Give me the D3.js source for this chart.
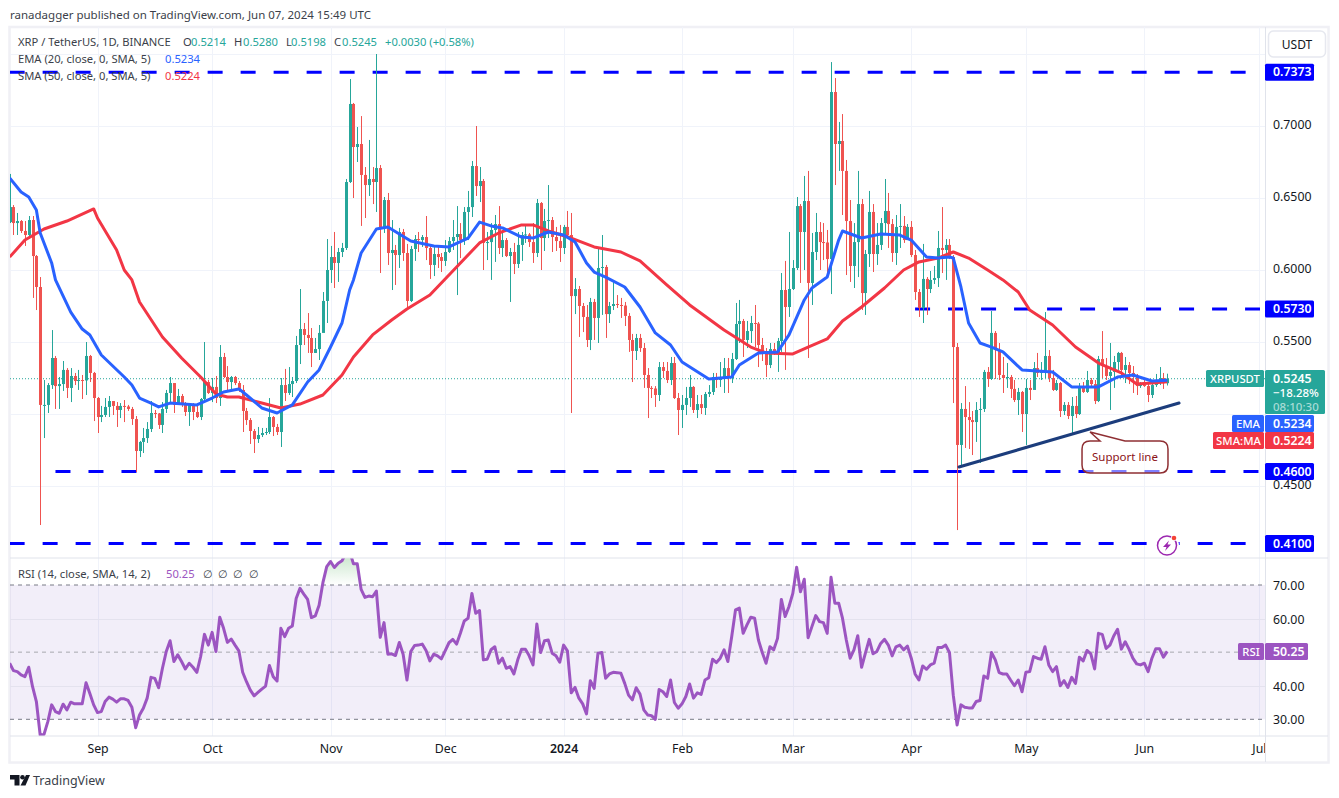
<!DOCTYPE html>
<html>
<head>
<meta charset="utf-8">
<script src="https://cdn.jsdelivr.net/npm/d3@7"></script>
<style>
  html, body { margin: 0; background: #fff; }
  svg { display: block; }
  text { font-family: "Noto Sans", sans-serif; font-size: 12px; fill: #131722; }
  .axis .domain, .axis .tick line { display: none; }
  .grid .domain { display: none; }
  .grid .tick line { stroke: #f0f3fa; stroke-width: 1; shape-rendering: crispEdges; }
  .axis text { font-size: 12.3px; fill: #131722; }
</style>
</head>
<body>
<svg id="chart" width="1339" height="798"></svg>
<script>
// daily candles, first one is 9 Aug 2023, open of each day is the close before
const firstDay = Date.UTC(2023, 7, 9);
const firstOpen = 0.6333;
const closes = [
  .6437,.6326,.6340,.6271,.6243,.6347,.6097,.5882,.5063,.5063,.5201,.5389,.5194,.5208,.5306,.5181,.5264,.5229,.5236,.5233,
  .5403,.5285,.5111,.4979,.4993,.5049,.5090,.5056,.5028,.5056,.5052,.5035,.4965,.4743,.4806,.4833,.4896,.5007,.5004,.4924,
  .5035,.5146,.5215,.5063,.5125,.5069,.5014,.5069,.5014,.4979,.5104,.5222,.5146,.5188,.5111,.5396,.5257,.5222,.5257,.5215,
  .5167,.5021,.4958,.4882,.4826,.4854,.4868,.4875,.4979,.4910,.4875,.5201,.5146,.5208,.5229,.5479,.5590,.5549,.5528,.5424,
  .5451,.5563,.5785,.6000,.6090,.6049,.6125,.6153,.6611,.7153,.6854,.6875,.6660,.6590,.6632,.6611,.6708,.6292,.6486,.6118,
  .6139,.6104,.6264,.6118,.5785,.6146,.6215,.6208,.6229,.6153,.6035,.6111,.6090,.6063,.6125,.6201,.6229,.6250,.6208,.6403,
  .6437,.6722,.6583,.6618,.6188,.6194,.6278,.6319,.6153,.6208,.6097,.6125,.6042,.6174,.6243,.6247,.6194,.6118,.6465,.6222,
  .6340,.6347,.6229,.6201,.6153,.6299,.6243,.5819,.5868,.5750,.5674,.5514,.5778,.5667,.6014,.6021,.5694,.5750,.5764,.5757,
  .5753,.5681,.5514,.5438,.5528,.5458,.5271,.5181,.5177,.5132,.5326,.5299,.5236,.5354,.5111,.5028,.5063,.5111,.5188,.5028,
  .5069,.5042,.5139,.5153,.5257,.5236,.5250,.5319,.5250,.5382,.5625,.5646,.5514,.5576,.5632,.5628,.5479,.5431,.5340,.5451,
  .5424,.5507,.5861,.5743,.5868,.6014,.6444,.6264,.6479,.5910,.6125,.6264,.6194,.6191,.6076,.7236,.6875,.6896,.6688,.6340,
  .6028,.6194,.6458,.5840,.6111,.6403,.6111,.6174,.6326,.6410,.6319,.6118,.6299,.6306,.6208,.6299,.6104,.5847,.5736,.5938,
  .5868,.5931,.5944,.6153,.6139,.6174,.6090,.5465,.4785,.5035,.4979,.4958,.4944,.5028,.5035,.5292,.5243,.5563,.5444,.5271,
  .5250,.5257,.5174,.5097,.5153,.5000,.5181,.5167,.5319,.5285,.5292,.5403,.5250,.5167,.5215,.5021,.5063,.4986,.5056,.5000,
  .5194,.5153,.5236,.5208,.5090,.5382,.5333,.5264,.5292,.5361,.5424,.5306,.5340,.5285,.5257,.5194,.5201,.5194,.5132,.5201,
  .5236,.5250,.5214,.5245
];
const highs = [
  .6667,.6451,.6396,.6347,.6340,.6375,.6375,.6104,.5951,.5236,.5215,.5583,.5403,.5257,.5368,.5319,.5319,.5285,.5306,.5271,
  .5500,.5410,.5292,.5118,.5056,.5111,.5125,.5090,.5083,.5076,.5097,.5063,.5049,.4986,.4813,.4903,.4944,.5090,.5028,.5007,
  .5083,.5167,.5257,.5215,.5174,.5139,.5083,.5076,.5076,.5076,.5111,.5500,.5236,.5250,.5264,.5479,.5424,.5333,.5264,.5264,
  .5229,.5201,.5042,.4972,.4896,.4910,.4903,.4903,.5111,.4986,.4931,.5250,.5313,.5326,.5257,.5542,.5868,.5632,.5701,.5597,
  .5528,.5618,.5847,.6215,.6167,.6264,.6153,.6188,.6632,.7326,.7160,.6993,.7069,.6715,.6903,.6715,.7500,.6729,.6507,.6535,
  .6347,.6174,.6292,.6285,.6181,.6167,.6243,.6264,.6243,.6375,.6174,.6174,.6167,.6118,.6208,.6229,.6347,.6444,.6326,.6437,
  .6549,.6757,.7000,.6715,.6632,.6264,.6326,.6382,.6444,.6278,.6222,.6153,.6188,.6264,.6264,.6319,.6257,.6326,.6493,.6472,
  .6424,.6590,.6368,.6299,.6313,.6313,.6410,.6396,.5944,.5889,.5771,.5757,.5806,.5799,.6153,.6243,.6035,.5778,.5917,.5826,
  .5806,.5778,.5701,.5556,.5556,.5556,.5493,.5319,.5194,.5194,.5361,.5361,.5361,.5396,.5396,.5146,.5132,.5188,.5271,.5194,
  .5132,.5132,.5153,.5201,.5285,.5285,.5361,.5389,.5389,.5424,.5771,.5792,.5660,.5646,.5681,.5757,.5639,.5528,.5458,.5493,
  .5493,.5528,.5979,.6063,.6264,.6069,.6507,.6458,.6653,.6688,.6257,.6396,.6333,.6326,.6278,.7444,.7333,.7028,.7083,.6764,
  .6486,.6326,.6688,.6493,.6139,.6549,.6458,.6326,.6361,.6632,.6535,.6354,.6382,.6458,.6375,.6319,.6340,.6139,.5868,.6181,
  .5951,.5993,.6028,.6271,.6437,.6215,.6215,.6104,.5493,.5076,.5194,.5083,.5021,.5083,.5111,.5306,.5326,.5715,.5576,.5493,
  .5396,.5354,.5271,.5236,.5181,.5160,.5243,.5236,.5361,.5424,.5361,.5708,.5444,.5306,.5236,.5222,.5083,.5083,.5118,.5125,
  .5215,.5222,.5299,.5250,.5236,.5403,.5576,.5389,.5493,.5403,.5431,.5431,.5396,.5361,.5333,.5278,.5222,.5236,.5208,.5215,
  .5278,.5326,.5285,.5280
];
const lows = [
  .6326,.6243,.6243,.6257,.6167,.6222,.5806,.5722,.4229,.4833,.5007,.5174,.5035,.5035,.5160,.5111,.5083,.5201,.5167,.5104,
  .5132,.5222,.4951,.4868,.4944,.4979,.4979,.4993,.4910,.4972,.4944,.5021,.4924,.4597,.4701,.4729,.4799,.4875,.4972,.4896,
  .4868,.5007,.5083,.5007,.5063,.5049,.4986,.4917,.4958,.4972,.4958,.5083,.5139,.5083,.5076,.5056,.5250,.5160,.5160,.5201,
  .5153,.4875,.4924,.4792,.4729,.4799,.4840,.4854,.4861,.4847,.4854,.4771,.5090,.5132,.5118,.5215,.5347,.5479,.5424,.5326,
  .5424,.5375,.5632,.5632,.5910,.5875,.5917,.6090,.6139,.6604,.6500,.6750,.6306,.6361,.6514,.6458,.6403,.5979,.6257,.6035,
  .5861,.5896,.6014,.6063,.5736,.5778,.6063,.6125,.6160,.6069,.5938,.5958,.6014,.5986,.6028,.6118,.6139,.5826,.6083,.6174,
  .6208,.6368,.6514,.6472,.6000,.6069,.5931,.6056,.6111,.6090,.6090,.5778,.5972,.6014,.6063,.6188,.6160,.6049,.6090,.6000,
  .6132,.6222,.6125,.6132,.6056,.6111,.6229,.5007,.5694,.5535,.5569,.5465,.5444,.5514,.5493,.5688,.5528,.5632,.5722,.5736,
  .5667,.5611,.5431,.5222,.5375,.5431,.5181,.4972,.5111,.5049,.5090,.5250,.5215,.5201,.5104,.4854,.4903,.4993,.5049,.5007,
  .4972,.5000,.4993,.5118,.5132,.5181,.5188,.5146,.5146,.5215,.5375,.5493,.5396,.5458,.5493,.5465,.5326,.5368,.5257,.5319,
  .5410,.5292,.5431,.5306,.5674,.5861,.6000,.5910,.6000,.5389,.5757,.6069,.6000,.6069,.5951,.5833,.6590,.6688,.6382,.5965,
  .5917,.5875,.5951,.5722,.5688,.6021,.5986,.6035,.6139,.6257,.6153,.6056,.6035,.6153,.6188,.6208,.6090,.5792,.5674,.5632,
  .5688,.5840,.5903,.5882,.5979,.5931,.6076,.5076,.4194,.4646,.4764,.4757,.4715,.4806,.4660,.5014,.5188,.5236,.5243,.5236,
  .5146,.5181,.5111,.5083,.4993,.4875,.4785,.5097,.5174,.5257,.5236,.5250,.5222,.5160,.5160,.4979,.4993,.4965,.4868,.4972,
  .4993,.5146,.5146,.5181,.5069,.5083,.5250,.5236,.5028,.5181,.5306,.5257,.5215,.5208,.5146,.5132,.5181,.5188,.5083,.5111,
  .5188,.5201,.5174,.5198
];
const rsiValues = [
  46.7,44.5,44.2,43.2,42.7,45.5,39.7,35.3,25.3,25.5,29.3,34.3,32.3,31.8,34.5,32.8,35.1,34.6,34.6,34.6,
  40.9,37.7,34.3,32,32.3,35.3,36.6,36,35.1,36.1,36.1,35.6,33.6,27.5,31.3,33.3,36.3,42.5,42.2,39.4,
  45.2,50.2,53.4,47.2,49.2,47.2,45,46.7,45.5,44,48.7,55.3,52.1,55.9,50.2,60.4,57.1,52.9,53.9,52.1,
  50.4,44,41.2,38.7,37,38,39,39.9,46,42.7,41.4,57.1,54.6,57.1,57.8,66,69,67.3,65.7,60.3,
  60.8,64,70.7,75.5,77,75.2,76.5,77.2,79.5,80,76.3,76.3,68.7,66.3,66.7,66.5,68.2,54.4,58.8,49.4,
  49.5,49,52.9,49.4,41.7,50.2,52,52.1,52.4,50.5,47.4,49.4,48.9,48,50.4,52.8,53.8,52.4,55.7,59.3,
  60.1,67.5,61.6,62.4,47.7,47.9,50.7,51.6,46.7,48.2,45.2,45.7,43.5,47.7,50.9,50.9,48.9,46.2,58.4,49.9,
  53.4,53.6,49.7,48.9,47,52.1,50.4,37.9,39.5,36.3,34.6,31.6,41.5,39.2,49.7,49.9,42.2,43.5,44,43.9,
  43.7,40.7,37.2,35.8,39.4,37.5,32.8,31.3,31.1,30,38.9,38.2,36.8,41.7,35,33.3,34.6,36.8,40.5,36.3,
  37.9,37.4,41.7,42.4,47.9,46.9,48.2,50.7,47.2,54.6,62.6,63.1,55.6,58.1,60.4,60.1,53.6,49.9,46.7,51.6,
  50.7,54.1,65.7,60.6,63.6,67.5,75.3,68,71.7,54.3,57.6,60.9,59.1,58.8,55.6,72.3,64.6,64.6,60.1,53.6,
  48.2,50.7,54.9,45.5,49.7,53.8,49.5,50.2,52.6,53.8,52.1,48.9,51.6,52.1,50.7,51.8,48.2,43.5,41.7,45.9,
  44.9,46.2,46.7,51.4,51.4,52.1,49.9,37.2,28.3,34.3,33.6,33.4,33.4,35.3,35.6,42.9,42.2,49.9,47.7,43.9,
  43.5,43.5,41.7,40,41.7,38.2,44,44.2,48.7,48.2,47.9,51.6,46.2,44.2,45.7,40,41.5,39.5,42.5,40.7,
  48.5,47.4,50.5,49.5,45,55.6,55.3,51.1,52.1,54.8,56.8,50.9,53.1,50.9,48.2,46.5,46.2,46.7,44.2,48.2,
  51,51,48.5,50.25
];
// moving averages read every few days (day number counted from firstDay)
const emaDays = [0,3,5,7,8,11,12,16,19,21,24,30,32,34,37,39,42,49,53,56,60,62,66,70,74,78,81,84,87,89,90,92,96,99,105,111,115,120,123,126,129,134,137,141,145,148,151,153,156,161,165,169,173,176,183,189,191,196,201,204,208,210,214,217,218,223,228,233,236,240,243,246,247,249,251,254,257,260,265,273,278,285,290,294,299,303];
const emaValues = [.6639,.6542,.6507,.6417,.6257,.6049,.5931,.5708,.5590,.5549,.5410,.5257,.5201,.5111,.5076,.5049,.5076,.5063,.5111,.5153,.5174,.5132,.5042,.5007,.5063,.5222,.5306,.5465,.5632,.5861,.5931,.6118,.6285,.6299,.6201,.6167,.6160,.6222,.6333,.6306,.6292,.6229,.6222,.6264,.6243,.6194,.6049,.5986,.5951,.5882,.5743,.5563,.5479,.5361,.5243,.5257,.5340,.5424,.5431,.5549,.5792,.5875,.5951,.6208,.6271,.6222,.6250,.6243,.6208,.6090,.6083,.6090,.6083,.5882,.5632,.5493,.5465,.5431,.5306,.5292,.5188,.5188,.5257,.5271,.5229,.5234];
const smaDays = [0,4,9,15,22,23,28,30,32,34,40,45,50,54,57,60,65,71,76,82,87,90,95,100,104,110,117,123,128,134,137,141,147,153,160,165,172,178,187,194,198,205,209,214,218,223,229,234,238,243,247,251,256,260,264,267,273,279,285,291,295,299,303];
const smaValues = [.6090,.6208,.6285,.6340,.6424,.6361,.6139,.6000,.5931,.5778,.5535,.5389,.5257,.5139,.5118,.5118,.5083,.5042,.5069,.5132,.5271,.5396,.5549,.5653,.5729,.5826,.6021,.6188,.6257,.6313,.6313,.6271,.6222,.6160,.6125,.6063,.5896,.5757,.5583,.5465,.5424,.5417,.5465,.5521,.5646,.5743,.5875,.6000,.6056,.6083,.6125,.6083,.6000,.5931,.5847,.5722,.5618,.5465,.5354,.5285,.5208,.5215,.5224];

const priceGrid = [.75,.7,.65,.6,.55,.5,.45];
const priceLabels = [.7,.65,.6,.55,.45];
const rsiTicks = [70,60,40,30];
const levelPrices = [0.7373,0.5730,0.4600,0.4100];
const levelStartDays = [0,237,12,0];
const supportDays = [248.5,306.1];
const supportPrices = [.4632,.5076];
const monthStarts = d3.utcMonth.range(new Date(Date.UTC(2023,8,1)), new Date(Date.UTC(2024,6,2)));

const svg = d3.select('#chart');
const paneLeft = 10, paneRight = 1265, mainTop = 27, mainBottom = 558, rsiBottom = 736;

const x = d3.scaleUtc()
  .domain([new Date(Date.UTC(2023,8,1)), new Date(Date.UTC(2024,5,1))])
  .range([97.5, 1144.3]);
const dayX = d => x(new Date(firstDay + d * 864e5));
const y = d3.scaleLinear().domain([0.6, 0.45]).range([270, 486]);
const yRsi = d3.scaleLinear().domain([70, 30]).range([585, 719.3]);

const defs = svg.append('defs');
defs.append('clipPath').attr('id', 'mainClip').append('rect')
  .attr('x', paneLeft).attr('y', mainTop).attr('width', paneRight - paneLeft).attr('height', mainBottom - mainTop);
defs.append('clipPath').attr('id', 'rsiClip').append('rect')
  .attr('x', paneLeft).attr('y', mainBottom).attr('width', paneRight - paneLeft).attr('height', rsiBottom - mainBottom);
defs.append('clipPath').attr('id', 'timeClip').append('rect')
  .attr('x', paneLeft).attr('y', rsiBottom).attr('width', paneRight - paneLeft).attr('height', 26);
defs.append('clipPath').attr('id', 'overClip').append('rect')
  .attr('x', paneLeft).attr('y', mainBottom).attr('width', paneRight - paneLeft).attr('height', yRsi(70) - mainBottom);
const grad = defs.append('linearGradient').attr('id', 'overGrad').attr('x1', 0).attr('x2', 0).attr('y1', 0).attr('y2', 1);
grad.append('stop').attr('offset', 0).attr('stop-color', '#c3e3c6');
grad.append('stop').attr('offset', 1).attr('stop-color', '#ffffff');

// frame of the screenshot
svg.append('rect').attr('x', 9.5).attr('y', 27).attr('width', 1319).attr('height', 735.5)
  .attr('fill', '#fff').attr('stroke', '#f0f0f5').attr('stroke-width', 2.5);

// grids
svg.append('g').attr('class', 'grid').attr('transform', `translate(0,${rsiBottom})`)
  .call(d3.axisBottom(x).tickValues(monthStarts).tickSize(-(rsiBottom - mainTop)).tickFormat(''));
svg.append('g').attr('class', 'grid').attr('transform', `translate(${paneRight},0)`)
  .call(d3.axisLeft(y).tickValues(priceGrid).tickSize(paneRight - paneLeft).tickFormat(''));

// rsi band goes under its grid lines
svg.append('rect').attr('x', paneLeft).attr('y', yRsi(70)).attr('width', paneRight - paneLeft)
  .attr('height', yRsi(30) - yRsi(70)).attr('fill', '#7e57c2').attr('fill-opacity', 0.1);
svg.append('g').attr('class', 'grid rsigrid').attr('transform', `translate(${paneRight},0)`)
  .call(d3.axisLeft(yRsi).tickValues([60, 40]).tickSize(paneRight - paneLeft).tickFormat(''))
  .selectAll('.tick line').style('stroke', '#e4e2ee');

// horizontal levels
const main = svg.append('g').attr('clip-path', 'url(#mainClip)');
main.selectAll('.level').data(levelPrices).enter().append('line')
  .attr('class', 'level')
  .attr('x1', (d, i) => dayX(levelStartDays[i]))
  .attr('x2', paneRight - 5)
  .attr('y1', d => y(d)).attr('y2', d => y(d))
  .attr('stroke', '#0000ff').attr('stroke-width', 3).attr('stroke-dasharray', '15 18');

// last price dotted line
main.append('line').attr('x1', paneLeft).attr('x2', paneRight)
  .attr('y1', y(closes[closes.length - 1])).attr('y2', y(closes[closes.length - 1]))
  .attr('stroke', '#26a69a').attr('stroke-width', 1).attr('stroke-dasharray', '1 2');

// candles
const candles = closes.map((c, i) => ({
  day: i, open: i ? closes[i - 1] : firstOpen, close: c, high: highs[i], low: lows[i]
}));
const colour = d => (d.close >= d.open ? '#26a69a' : '#ef5350');
main.selectAll('.wick').data(candles).enter().append('line')
  .attr('class', 'wick')
  .attr('x1', d => Math.round(dayX(d.day)) + 0.5).attr('x2', d => Math.round(dayX(d.day)) + 0.5)
  .attr('y1', d => y(d.high)).attr('y2', d => y(d.low))
  .attr('stroke', colour).attr('stroke-width', 1);
main.selectAll('.body').data(candles).enter().append('rect')
  .attr('class', 'body')
  .attr('x', d => Math.round(dayX(d.day)) - 1)
  .attr('width', 3)
  .attr('y', d => y(Math.max(d.open, d.close)))
  .attr('height', d => Math.max(1, Math.abs(y(d.open) - y(d.close))))
  .attr('fill', colour);

// moving averages
const maLine = d3.line().x(d => dayX(d[0])).y(d => y(d[1]));
main.append('path').attr('d', maLine(smaDays.map((d, i) => [d, smaValues[i]])))
  .attr('fill', 'none').attr('stroke', '#f23645').attr('stroke-width', 3).attr('stroke-linejoin', 'round');
main.append('path').attr('d', maLine(emaDays.map((d, i) => [d, emaValues[i]])))
  .attr('fill', 'none').attr('stroke', '#2962ff').attr('stroke-width', 3).attr('stroke-linejoin', 'round');

// support line with its note
main.append('line')
  .attr('x1', dayX(supportDays[0])).attr('y1', y(supportPrices[0]))
  .attr('x2', dayX(supportDays[1])).attr('y2', y(supportPrices[1]))
  .attr('stroke', '#1c3d7c').attr('stroke-width', 3).attr('stroke-linecap', 'round');

const noteL = dayX(280.7), noteR = dayX(303.2), noteT = y(.4813), noteB = y(.4590);
const tipX = dayX(282.8), tipY = y(.4875), r = 8;
const notePath = d3.path();
notePath.moveTo(noteL + r, noteT);
notePath.lineTo(noteL + 18, noteT);
notePath.lineTo(tipX, tipY);
notePath.lineTo(noteL + 43, noteT);
notePath.lineTo(noteR - r, noteT);
notePath.quadraticCurveTo(noteR, noteT, noteR, noteT + r);
notePath.lineTo(noteR, noteB - r);
notePath.quadraticCurveTo(noteR, noteB, noteR - r, noteB);
notePath.lineTo(noteL + r, noteB);
notePath.quadraticCurveTo(noteL, noteB, noteL, noteB - r);
notePath.lineTo(noteL, noteT + r);
notePath.quadraticCurveTo(noteL, noteT, noteL + r, noteT);
notePath.closePath();
main.append('path').attr('d', notePath.toString())
  .attr('fill', '#fff').attr('fill-opacity', 0.5).attr('stroke', '#8f2f33').attr('stroke-width', 1.5);
main.append('text').attr('x', (noteL + noteR) / 2).attr('y', (noteT + noteB) / 2 + 4)
  .attr('text-anchor', 'middle').style('fill', '#8b1218').style('font-size', '11.5px').text('Support line');

// bolt badge
const badge = svg.append('g').attr('transform', `translate(1167,545.5)`);
badge.append('circle').attr('r', 12).attr('fill', '#fff');
badge.append('circle').attr('r', 9.5).attr('fill', 'none').attr('stroke', '#9c27b0').attr('stroke-width', 1.5);
badge.append('path').attr('d', 'M2,-5 L-4,1.5 L-0.5,1.5 L-2,5.5 L4,-1 L0.5,-1 Z').attr('fill', '#9c27b0');
badge.append('circle').attr('cx', 7).attr('cy', -7.5).attr('r', 3).attr('fill', '#fff');
badge.append('circle').attr('cx', 7).attr('cy', -7.5).attr('r', 2.3).attr('fill', '#f44336');

// rsi pane
const rsi = svg.append('g').attr('clip-path', 'url(#rsiClip)');
const rsiPts = rsiValues.map((v, i) => [i, v]);
rsi.append('path').attr('clip-path', 'url(#overClip)')
  .attr('d', d3.area().x(d => dayX(d[0])).y0(yRsi(70)).y1(d => yRsi(Math.max(d[1], 70)))(rsiPts))
  .attr('fill', 'url(#overGrad)');
[70, 50, 30].forEach(v => {
  rsi.append('line').attr('x1', paneLeft).attr('x2', paneRight).attr('y1', yRsi(v)).attr('y2', yRsi(v))
    .attr('stroke', v === 50 ? '#a9a9ae' : '#787b86').attr('stroke-dasharray', '4 4').attr('stroke-width', 1);
});
rsi.append('path').attr('d', d3.line().x(d => dayX(d[0])).y(d => yRsi(d[1]))(rsiPts))
  .attr('fill', 'none').attr('stroke', '#9c55c1').attr('stroke-width', 3).attr('stroke-linejoin', 'round');

// pane dividers
[mainBottom, rsiBottom].forEach(v => {
  svg.append('line').attr('x1', paneLeft).attr('x2', 1328).attr('y1', v).attr('y2', v)
    .attr('stroke', '#e0e3eb').attr('stroke-width', 1);
});
svg.append('line').attr('x1', paneRight + 0.5).attr('x2', paneRight + 0.5).attr('y1', mainTop).attr('y2', 762)
  .attr('stroke', '#e0e3eb').attr('stroke-width', 1);

// time axis, Jul is cut by the price scale as in the picture
const timeAxis = svg.append('g').attr('clip-path', 'url(#timeClip)').append('g')
  .attr('class', 'axis').attr('transform', `translate(0,${rsiBottom})`)
  .call(d3.axisBottom(x).tickValues(monthStarts).tickSize(0).tickPadding(8)
    .tickFormat(d => (d.getUTCMonth() === 0 ? d.getUTCFullYear() : d3.utcFormat('%b')(d))));
timeAxis.selectAll('.tick text').filter(d => d.getUTCMonth() === 0).style('font-weight', 600);

// price axes
svg.append('g').attr('class', 'axis').attr('transform', `translate(${paneRight},-1)`)
  .call(d3.axisRight(y).tickValues(priceLabels).tickSize(0).tickPadding(8).tickFormat(d3.format('.4f')));
svg.append('g').attr('class', 'axis').attr('transform', `translate(${paneRight},0.5)`)
  .call(d3.axisRight(yRsi).tickValues(rsiTicks).tickSize(0).tickPadding(8).tickFormat(d3.format('.2f')));

// right side tags
function tag(value, bg, label, width, top, height) {
  const g = svg.append('g');
  g.append('rect').attr('x', paneRight).attr('y', top).attr('width', width).attr('height', height)
    .attr('rx', 1.5).attr('fill', bg);
  g.append('text').attr('x', paneRight + 8).attr('y', top + 12.5).text(value)
    .style('fill', '#fff').style('font-size', '12.3px').style('font-weight', 600);
  if (label) {
    const lw = label.w;
    g.append('rect').attr('x', paneRight - lw - 1).attr('y', top).attr('width', lw).attr('height', 17)
      .attr('rx', 1.5).attr('fill', bg);
    g.append('text').attr('x', paneRight - 1 - lw / 2).attr('y', top + 12.5).attr('text-anchor', 'middle').text(label.t)
      .style('fill', '#fff').style('font-size', '11.3px').style('font-weight', 500);
  }
}
const tagTop = v => y(v) - 8.5;
levelPrices.forEach(p => tag(d3.format('.4f')(p), '#0000ff', null, 49, tagTop(p), 17));
tag('0.5245', '#26a69a', { t: 'XRPUSDT', w: 58 }, 60, 370, 44);
svg.append('text').attr('x', paneRight + 8).attr('y', 396.5).text('\u221218.28%')
  .style('fill', '#fff').style('font-size', '11.5px').style('font-weight', 500);
svg.append('text').attr('x', paneRight + 8).attr('y', 411).text('08:10:30')
  .style('fill', '#a8dcd6').style('font-size', '11.5px').style('font-weight', 500);
tag('0.5234', '#2962ff', { t: 'EMA', w: 32 }, 49, 415, 17);
tag('0.5224', '#f23645', { t: 'SMA:MA', w: 51 }, 49, 432, 17);
tag('50.25', '#9c55c1', { t: 'RSI', w: 26 }, 43, 643, 17);

// currency button
svg.append('rect').attr('x', 1268.5).attr('y', 31).attr('width', 57).attr('height', 26).attr('rx', 5)
  .attr('fill', '#fff').attr('stroke', '#e6e8ef').attr('stroke-width', 1.5);
svg.append('text').attr('x', 1297).attr('y', 48.5).attr('text-anchor', 'middle').text('USDT').style('font-size', '12px');

// legends
function legend(yPos, parts) {
  parts.forEach(p => {
    svg.append('text').attr('x', p[0]).attr('y', yPos).text(p[1])
      .style('fill', p[2] || '#3b3f4a').style('font-size', '11.2px');
  });
}
const teal = '#26a69a';
legend(46, [[18, 'XRP / TetherUS, 1D, BINANCE'], [183, 'O'], [191, '0.5214', teal], [234, 'H'], [243, '0.5280', teal],
  [286, 'L'], [291, '0.5198', teal], [334, 'C'], [342, '0.5245', teal], [385, '+0.0030 (+0.58%)', teal]]);
legend(63, [[18, 'EMA (20, close, 0, SMA, 5)'], [165, '0.5234', '#2962ff']]);
legend(80, [[18, 'SMA (50, close, 0, SMA, 5)'], [165, '0.5224', '#f23645']]);
legend(578, [[18, 'RSI (14, close, SMA, 14, 2)'], [166, '50.25', '#9c55c1'],
  [203, '\u2205'], [218, '\u2205'], [233, '\u2205'], [249, '\u2205']]);

// header and footer
svg.append('text').attr('x', 10).attr('y', 19).text('ranadagger published on TradingView.com, Jun 07, 2024 15:49 UTC')
  .style('font-size', '11.5px').style('fill', '#3b3f4a');
const logo = svg.append('g').attr('transform', 'translate(10,775)').attr('fill', '#131722');
logo.append('path').attr('d', 'M0,0 H9.5 V10.5 H4.5 V4.5 H0 Z');
logo.append('circle').attr('cx', 12.5).attr('cy', 2.3).attr('r', 2.3);
logo.append('path').attr('d', 'M16,0 H20 L15.5,10.5 H10.5 Z');
svg.append('text').attr('x', 33).attr('y', 785).text('TradingView').style('font-size', '12.5px').style('fill', '#3b3f4a');
</script>
</body>
</html>
